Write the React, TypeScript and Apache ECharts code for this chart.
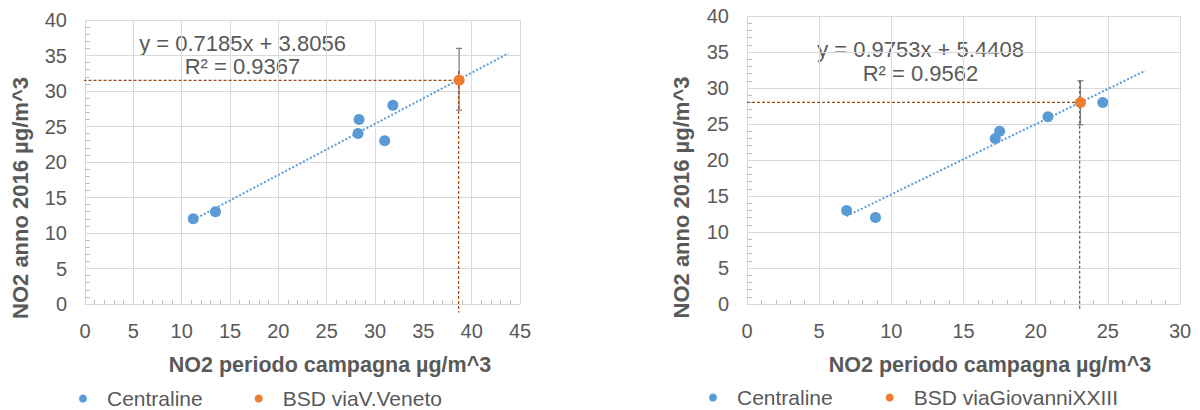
import React, { useEffect, useRef } from "react";
import * as echarts from "echarts";

// ---------- data ----------
const leftCentralineX = [11.2, 13.5, 28.25, 28.35, 31.0, 31.85];
const leftCentralineY = [12, 13, 24, 26, 23, 28];
const leftBsdName = "BSD viaV.Veneto";
const leftBsd = [38.7, 31.5];
const leftBsdError = [27.3, 36];
const leftTrend = [
  [11.2, 11.85],
  [43.8, 35.3],
];
const leftGuideH = [
  [-0.15, 31.5],
  [38.65, 31.5],
];
const leftGuideV = [
  [38.65, 32.8],
  [38.65, -1.2],
];
const leftEquation = "y = 0.7185x + 3.8056";
const leftR2 = "R² = 0.9367";

const rightCentralineX = [6.9, 8.9, 17.2, 17.5, 20.85, 24.65];
const rightCentralineY = [13, 12, 23, 24, 26, 28];
const rightBsdName = "BSD viaGiovanniXXIII";
const rightBsd = [23.1, 28];
const rightBsdError = [24.9, 31];
const rightTrend = [
  [6.9, 12.2],
  [27.6, 32.4],
];
const rightGuideH = [
  [0, 28],
  [23.05, 28],
];
const rightGuideV = [
  [23.05, 31],
  [23.05, -0.8],
];
const rightEquation = "y = 0.9753x + 5.4408";
const rightR2 = "R² = 0.9562";

const xMaxLeft = 45;
const xMaxRight = 30;
const yMax = 40;
const tickStep = 5;

const xTitle = "NO2 periodo campagna µg/m^3";
const yTitle = "NO2 anno 2016 µg/m^3";
const centralineName = "Centraline";

// ---------- styles ----------
const FONT = "'Liberation Sans', Arial, Helvetica, sans-serif";
const TEXT = "#595959";
const GRID = "#d9d9d9";
const BLUE = "#5B9BD5";
const ORANGE = "#ED7D31";
const GUIDE = "#9C4A12";
const ERR = "#808080";

function xAxis(gridIndex: number, max: number) {
  return {
    type: "value",
    gridIndex,
    min: 0,
    max,
    interval: tickStep,
    axisLine: { show: true, lineStyle: { color: GRID, width: 1 } },
    axisTick: { show: false, inside: true },
    minorTick: { show: true, splitNumber: 5, length: 4, lineStyle: { color: "#bfbfbf" } },
    splitLine: { show: true, lineStyle: { color: GRID, width: 1 } },
    axisLabel: { color: TEXT, fontSize: 20, margin: 17, fontFamily: FONT },
  };
}

function yAxis(gridIndex: number) {
  return {
    type: "value",
    gridIndex,
    min: 0,
    max: yMax,
    interval: tickStep,
    axisLine: { show: true, lineStyle: { color: GRID, width: 1 } },
    axisTick: { show: false, inside: true },
    minorTick: { show: true, splitNumber: 5, length: 5, lineStyle: { color: "#bfbfbf" } },
    splitLine: { show: true, lineStyle: { color: GRID, width: 1 } },
    axisLabel: { color: TEXT, fontSize: 20, margin: 18, fontFamily: FONT },
  };
}

function errorBar(idx: number, x: number, range: number[]) {
  return {
    type: "custom",
    xAxisIndex: idx,
    yAxisIndex: idx,
    z: 3,
    silent: true,
    data: [[x, range[0], range[1]]],
    encode: { x: 0, y: [1, 2] },
    renderItem: (params: any, api: any) => {
      const top = api.coord([api.value(0), api.value(2)]);
      const bot = api.coord([api.value(0), api.value(1)]);
      const w = 3;
      const st = { stroke: ERR, lineWidth: 1.3 };
      return {
        type: "group",
        children: [
          { type: "line", shape: { x1: top[0], y1: top[1], x2: bot[0], y2: bot[1] }, style: st },
          { type: "line", shape: { x1: top[0] - w, y1: top[1], x2: top[0] + w, y2: top[1] }, style: st },
          { type: "line", shape: { x1: bot[0] - w, y1: bot[1], x2: bot[0] + w, y2: bot[1] }, style: st },
        ],
      };
    },
  };
}

function guide(idx: number, data: number[][]) {
  return {
    type: "line",
    xAxisIndex: idx,
    yAxisIndex: idx,
    data,
    clip: false,
    silent: true,
    symbol: "none",
    z: 4,
    lineStyle: { color: GUIDE, width: 1.2, type: [3, 2] },
  };
}

function chartSeries(
  idx: number,
  cx: number[],
  cy: number[],
  bsdName: string,
  bsd: number[],
  err: number[],
  trend: number[][],
  gh: number[][],
  gv: number[][]
) {
  return [
    {
      type: "line",
      xAxisIndex: idx,
      yAxisIndex: idx,
      data: trend,
      symbol: "none",
      silent: true,
      z: 2,
      lineStyle: { color: BLUE, width: 2, type: [2, 2] },
    },
    errorBar(idx, bsd[0], err),
    guide(idx, gh),
    guide(idx, gv),
    {
      name: centralineName,
      type: "scatter",
      xAxisIndex: idx,
      yAxisIndex: idx,
      symbolSize: 11,
      z: 5,
      itemStyle: { color: BLUE, opacity: 1 },
      data: cx.map((v, i) => [v, cy[i]]),
    },
    {
      name: bsdName,
      type: "scatter",
      xAxisIndex: idx,
      yAxisIndex: idx,
      symbolSize: 11,
      z: 6,
      itemStyle: { color: ORANGE, opacity: 1 },
      data: [bsd],
    },
  ];
}

function txt(x: number, y: number, text: string, size: number, bold = false, rotation = 0) {
  return {
    type: "text",
    x,
    y,
    rotation,
    silent: true,
    style: {
      text,
      fill: TEXT,
      fontSize: size,
      fontWeight: bold ? "bold" : "normal",
      fontFamily: FONT,
      align: "center",
      verticalAlign: "middle",
    },
  };
}

function legend(left: number, top: number, names: string[], gap: number) {
  return {
    data: names,
    left,
    top,
    padding: 0,
    icon: "circle",
    itemWidth: 38,
    itemHeight: 8,
    itemGap: gap,
    selectedMode: false,
    textStyle: { color: TEXT, fontSize: 21, lineHeight: 17, fontFamily: FONT },
  };
}

export default function App() {
  const ref = useRef<HTMLDivElement>(null);
  useEffect(() => {
    if (!ref.current) return;
    const chart = echarts.init(ref.current, null, { renderer: "svg" });
    chart.setOption({
      animation: false,
      backgroundColor: "#ffffff",
      textStyle: { fontFamily: FONT },
      grid: [
        { left: 85, top: 20, width: 435, height: 284 },
        { left: 747, top: 16, width: 433, height: 288 },
      ],
      xAxis: [xAxis(0, xMaxLeft), xAxis(1, xMaxRight)],
      yAxis: [yAxis(0), yAxis(1)],
      legend: [
        legend(79, 388, [centralineName, leftBsdName], 52),
        legend(709, 387, [centralineName, rightBsdName], 53),
      ],
      series: [
        ...chartSeries(0, leftCentralineX, leftCentralineY, leftBsdName, leftBsd, leftBsdError, leftTrend, leftGuideH, leftGuideV),
        ...chartSeries(1, rightCentralineX, rightCentralineY, rightBsdName, rightBsd, rightBsdError, rightTrend, rightGuideH, rightGuideV),
      ],
      graphic: [
        txt(242.5, 43.5, leftEquation, 22),
        txt(242.5, 66.5, leftR2, 22),
        txt(920.5, 49.5, rightEquation, 22),
        txt(920.5, 73.5, rightR2, 22),
        txt(330, 365, xTitle, 21.5, true),
        txt(990, 365, xTitle, 21.5, true),
        txt(20, 198, yTitle, 22, true, Math.PI / 2),
        txt(681, 197.5, yTitle, 22, true, Math.PI / 2),
      ],
    });
    return () => chart.dispose();
  }, []);
  return (
    <div
      ref={ref}
      style={{ position: "absolute", left: 0, top: 0, width: 1200, height: 410 }}
    />
  );
}
